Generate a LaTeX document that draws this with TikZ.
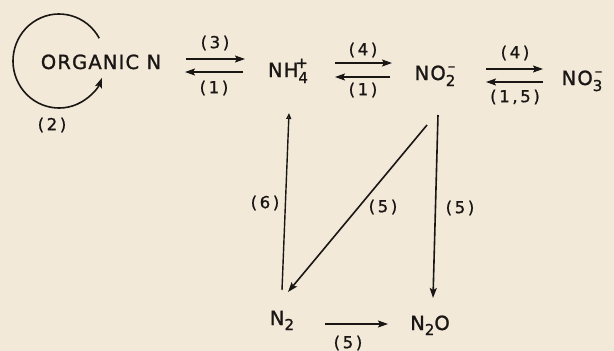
\documentclass[tikz,border=0pt]{standalone}
\usepackage{fontspec}
\setmainfont{DejaVu Sans}[LetterSpace=6,FakeBold=1.2]
\newfontfamily\ratefont{DejaVu Sans}[LetterSpace=16,FakeBold=1]
\usetikzlibrary{arrows.meta}
\definecolor{paper}{RGB}{242,233,217}
\definecolor{ink}{RGB}{25,22,20}
\newcommand{\subfont}{\fontsize{15}{15}\selectfont}
\newcommand{\ion}[3]{#1\raisebox{-6pt}{\subfont #2}\llap{\raisebox{9pt}{\subfont #3}}}
\newcommand{\chsub}[2]{#1\raisebox{-5pt}{\subfont #2}}
\tikzset{
  species/.style={inner sep=0pt,text height=14pt,text depth=0pt,font=\fontsize{19.5}{24}\selectfont,text=ink},
  rate/.style={inner sep=0pt,font=\ratefont\fontsize{16.5}{18}\selectfont,text=ink},
  rxn/.style={ink,line width=1.6pt,-{Stealth[length=10pt,width=7pt,inset=2pt]}},
  fix/.style={ink,line width=1.4pt,-{Triangle[open,length=6pt,width=5pt]}}
}

\begin{document}
\begin{tikzpicture}[x=1pt,y=-1pt]
\fill[paper] (0,0) rectangle (614,351);
\useasboundingbox (0,0) rectangle (614,351);
% species
\node[species] (org) at (101,62) {ORGANIC N};
\node[species] (nh4) at (288,70) {\ion{NH}{4}{+}};
\node[species] (no2) at (435,73) {\ion{NO}{2}{--}};
\node[species] (no3) at (582,78) {\ion{NO}{3}{--}};
\node[species] (n2) at (282,318) {\chsub{N}{2}};
\node[species] (n2o) at (430,323) {\chsub{N}{2}O};
% mineralisation loop
\coordinate (loop) at (59,61);
\draw[rxn] ([shift={(-29:46 and 47)}]loop) arc[start angle=-29,end angle=-339,x radius=46,y radius=47];
% top row
\draw[rxn] ([shift={(85,-3)}]org.center) -- ([shift={(-43,-11)}]nh4.center);
\draw[rxn] ([shift={(-45,2)}]nh4.center) -- ([shift={(84,10)}]org.center);
\draw[rxn] ([shift={(47,-7)}]nh4.center) -- ([shift={(-43,-10)}]no2.center);
\draw[rxn] ([shift={(-45,4)}]no2.center) -- ([shift={(47,7)}]nh4.center);
\draw[rxn] ([shift={(51,-4)}]no2.center) -- ([shift={(-39,-9)}]no3.center);
\draw[rxn] ([shift={(-39,4)}]no3.center) -- ([shift={(51,9)}]no2.center);
% down to the gases
\draw[fix] ([shift={(0,-28)}]n2.center) -- ([shift={(1,43)}]nh4.center);
\draw[rxn] ([shift={(-8,52)}]no2.center) -- ([shift={(6,-26)}]n2.center);
\draw[rxn] ([shift={(3,42)}]no2.center) -- ([shift={(3,-25)}]n2o.center);
\draw[rxn] ([shift={(43,6)}]n2.center) -- ([shift={(-42,1)}]n2o.center);
% process numbers
\node[rate] (r3) at (215,43) {(3)};
\node[rate] (r1a) at (214,88) {(1)};
\node[rate] (r4a) at (363,50) {(4)};
\node[rate] (r1b) at (363,90) {(1)};
\node[rate] (r4b) at (515,53) {(4)};
\node[rate] (r15) at (515,97) {(1,5)};
\node[rate] (r2) at (52,125) {(2)};
\node[rate] (r6) at (265,203) {(6)};
\node[rate] (r5a) at (383,207) {(5)};
\node[rate] (r5b) at (460,208) {(5)};
\node[rate] (r5c) at (348,343) {(5)};
\end{tikzpicture}
\end{document}
